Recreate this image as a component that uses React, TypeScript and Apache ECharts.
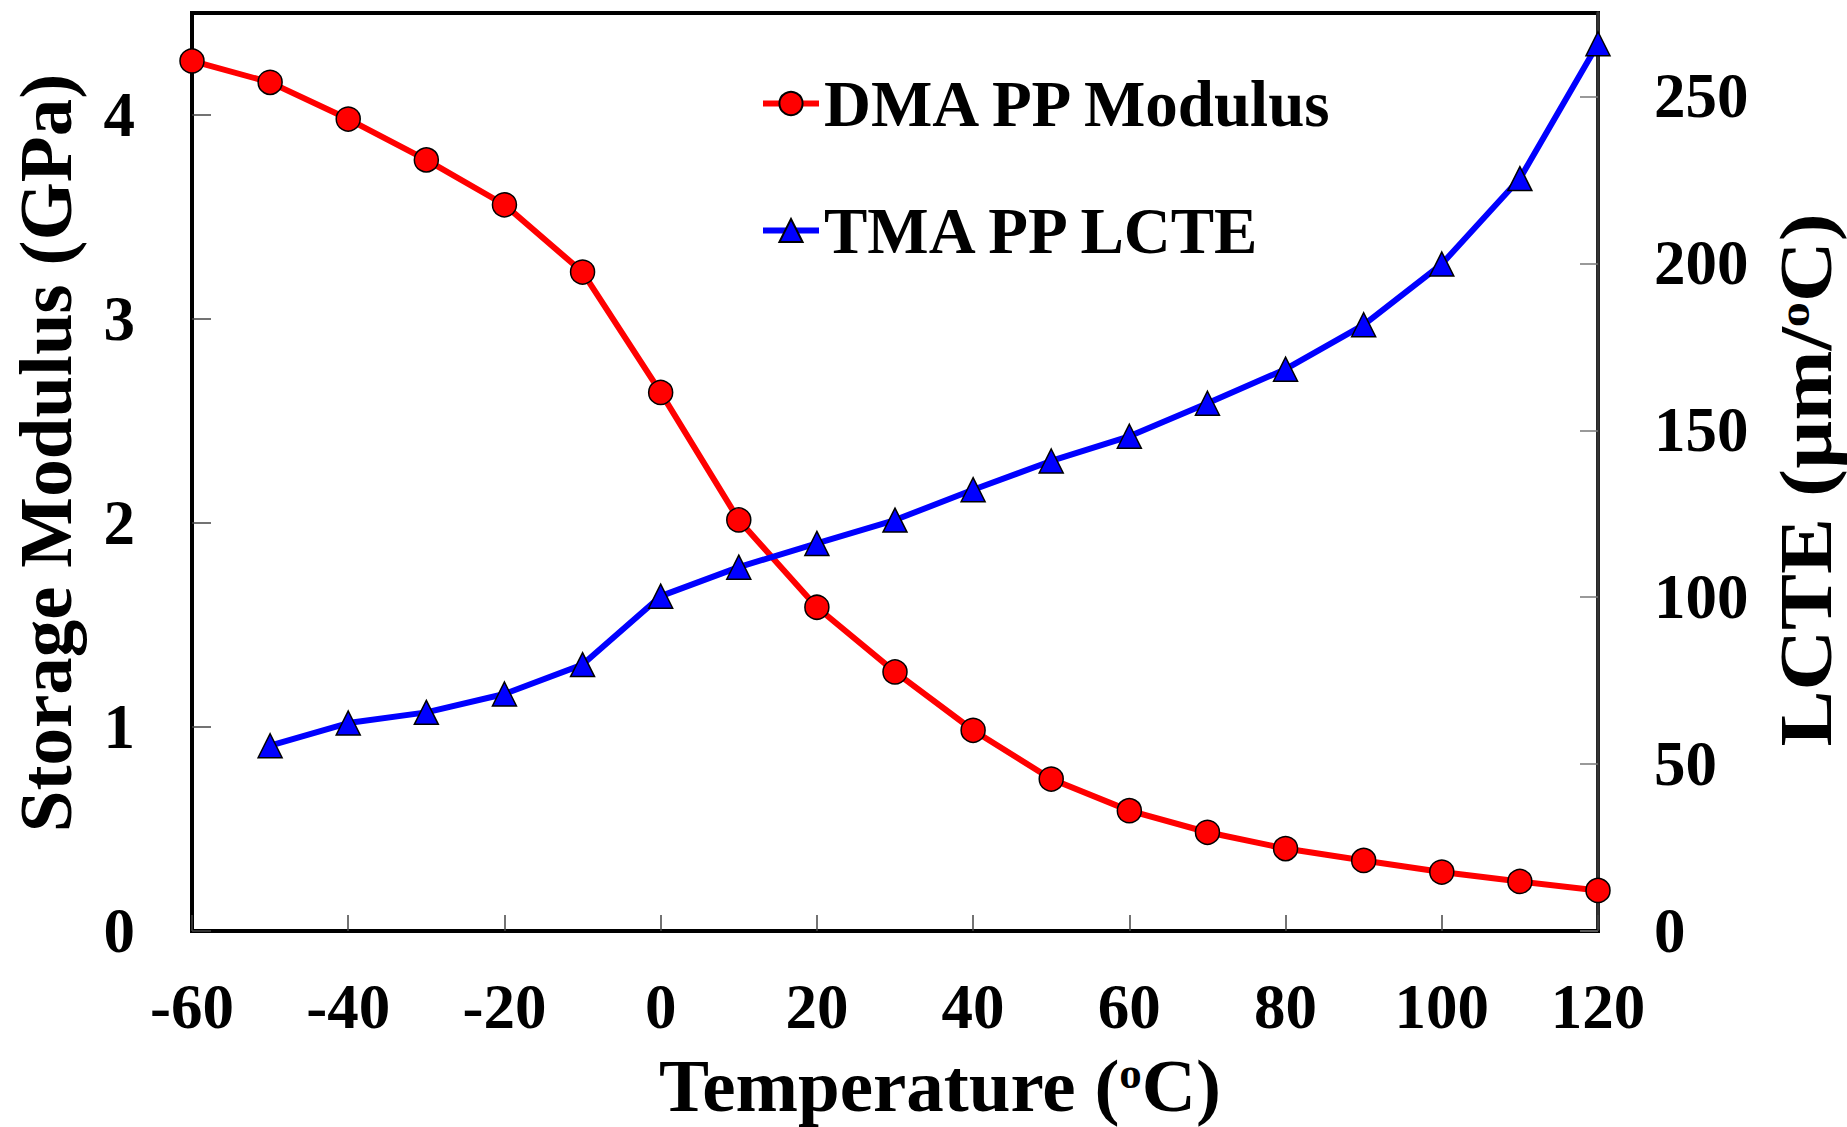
import React, { useEffect, useRef } from "react";
import * as echarts from "echarts";

const temps = [-60, -50, -40, -30, -20, -10, 0, 10, 20, 30, 40, 50, 60, 70, 80, 90, 100, 110, 120];
const modulusGPa = [4.265, 4.16, 3.98, 3.78, 3.56, 3.23, 2.64, 2.015, 1.587, 1.27, 0.984, 0.745, 0.59, 0.484, 0.404, 0.346, 0.289, 0.243, 0.199];
const lcteTemps = [-50, -40, -30, -20, -10, 0, 10, 20, 30, 40, 50, 60, 70, 80, 90, 100, 110, 120];
const lcteValues = [55.5, 62.3, 65.5, 71.0, 79.8, 100.3, 109.0, 116.1, 123.1, 132.2, 140.8, 148.2, 158.1, 168.3, 181.6, 199.8, 225.4, 265.8];

const seriesNames = ["DMA PP Modulus", "TMA PP LCTE"];
const xTitle = "Temperature ({sup|o}C)";
const yLeftTitle = "Storage Modulus (GPa)";
const yRightTitle = "LCTE (\u00b5m/{sup|o}C)";

const FONT = '"Liberation Serif", "Times New Roman", serif';

export default function App() {
  const ref = useRef<HTMLDivElement>(null);
  useEffect(() => {
    if (!ref.current) return;
    const chart = echarts.init(ref.current, undefined, { renderer: "svg" });
    const labelStyle = { fontFamily: FONT, fontWeight: "bold" as const, fontSize: 63, color: "#000" };
    const supRich = {
      sup: { fontFamily: FONT, fontWeight: "bold", fontSize: 45, fill: "#000", verticalAlign: "top", lineHeight: 70 },
    };
    const titleStyle = (text: string) => ({
      text,
      fontFamily: FONT,
      fontWeight: "bold",
      fontSize: 75,
      lineHeight: 70,
      fill: "#000",
      align: "center",
      verticalAlign: "middle",
      rich: supRich,
    });
    chart.setOption({
      animation: false,
      backgroundColor: "#fff",
      grid: {
        left: 192,
        right: 249,
        top: 13,
        bottom: 196,
        show: true,
        borderColor: "#000",
        borderWidth: 4,
        backgroundColor: "transparent",
      },
      legend: {
        data: seriesNames,
        orient: "vertical",
        left: 755,
        top: 66,
        itemWidth: 56,
        itemHeight: 29,
        itemGap: 62,
        lineStyle: { width: 6 },
        textStyle: { fontFamily: FONT, fontWeight: "bold", fontSize: 65, color: "#000" },
      },
      xAxis: {
        type: "value",
        min: -60,
        max: 120,
        interval: 20,
        axisLine: { show: true, onZero: false, lineStyle: { color: "#000", width: 4 } },
        axisTick: { show: true, inside: true, length: 16, lineStyle: { color: "#444", width: 1.5 } },
        axisLabel: { ...labelStyle, margin: 44 },
        splitLine: { show: false },
      },
      yAxis: [
        {
          type: "value",
          min: 0,
          max: 4.5,
          interval: 1,
          axisLine: { show: true, onZero: false, lineStyle: { color: "#000", width: 4 } },
          axisTick: { show: true, inside: true, length: 19, lineStyle: { color: "#444", width: 1.5 } },
          axisLabel: { ...labelStyle, margin: 57, showMaxLabel: false },
          splitLine: { show: false },
        },
        {
          type: "value",
          position: "right",
          min: 0,
          max: 275,
          interval: 50,
          axisLine: { show: true, onZero: false, lineStyle: { color: "#333", width: 3.5 } },
          axisTick: { show: true, inside: true, length: 18, lineStyle: { color: "#777", width: 1.5 } },
          axisLabel: { ...labelStyle, margin: 56, showMaxLabel: false },
          splitLine: { show: false },
        },
      ],
      series: [
        {
          name: seriesNames[0],
          type: "line",
          yAxisIndex: 0,
          data: temps.map((t, i) => [t, modulusGPa[i]]),
          symbol: "circle",
          symbolSize: 24,
          clip: false,
          lineStyle: { color: "#ff0000", width: 6 },
          itemStyle: { color: "#ff0000", borderColor: "#000", borderWidth: 1.5 },
        },
        {
          name: seriesNames[1],
          type: "line",
          yAxisIndex: 1,
          data: lcteTemps.map((t, i) => [t, lcteValues[i]]),
          symbol: "triangle",
          symbolSize: 24,
          clip: false,
          lineStyle: { color: "#0000ff", width: 6 },
          itemStyle: { color: "#0000ff", borderColor: "#000", borderWidth: 1.5 },
        },
      ],
      graphic: [
        { type: "text", x: 940, y: 1085, style: titleStyle(xTitle) },
        { type: "text", x: 45, y: 453, rotation: Math.PI / 2, style: titleStyle(yLeftTitle) },
        { type: "text", x: 1806, y: 480, rotation: Math.PI / 2, scaleX: 1.12, style: titleStyle(yRightTitle) },
      ],
    });
    return () => chart.dispose();
  }, []);
  return (
    <div
      ref={ref}
      style={{ position: "fixed", left: 0, top: 0, width: 1847, height: 1127, background: "#fff" }}
    />
  );
}
